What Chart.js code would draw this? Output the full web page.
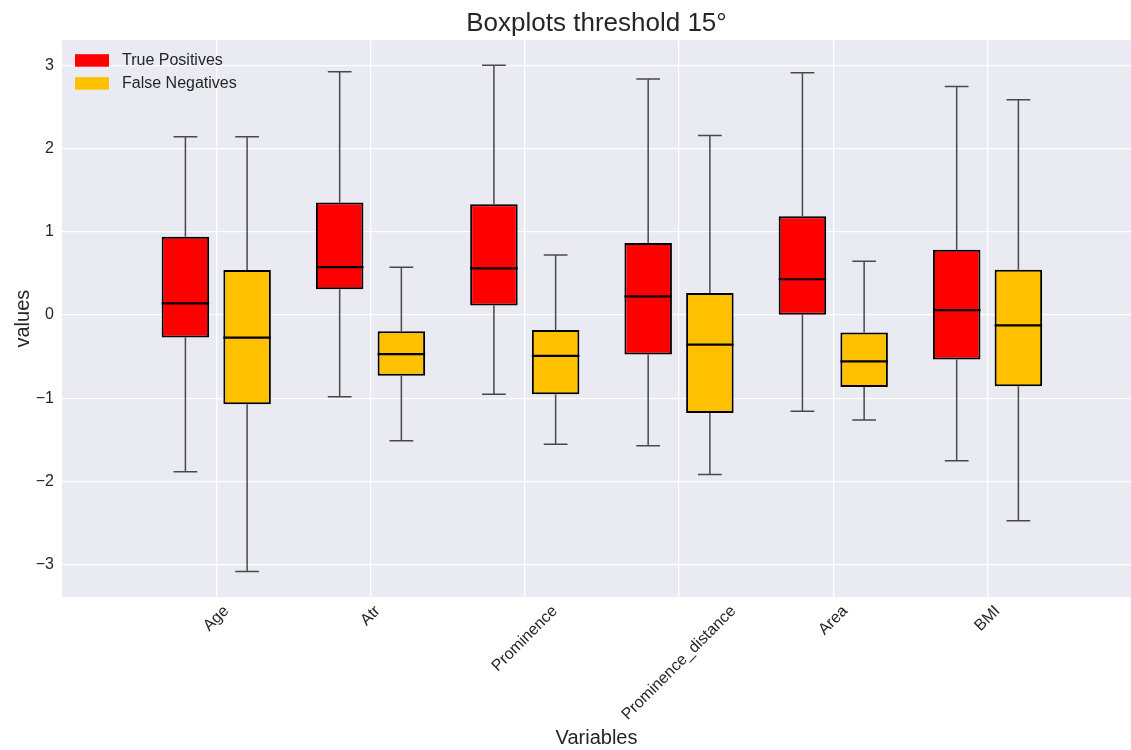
<!DOCTYPE html>
<html>
<head>
<meta charset="utf-8">
<title>Boxplots threshold 15°</title>
<script src="https://cdn.jsdelivr.net/npm/chart.js@4.4.1/dist/chart.umd.min.js"></script>
<style>
  html, body { margin: 0; padding: 0; background: #fff; }
  #wrap { width: 1131px; height: 750px; position: relative; }
</style>
</head>
<body>
<div id="wrap"><canvas id="box-chart"></canvas></div>
<script>
'use strict';

/* ---------- data ---------- */
const categories = ['Age', 'Atr', 'Prominence', 'Prominence_distance', 'Area', 'BMI'];
const seriesNames = ['True Positives', 'False Negatives'];

// True Positives
const tpLow    = [-1.88, -0.98, -0.95, -1.57, -1.155, -1.75];
const tpQ1     = [-0.27,  0.31,  0.115, -0.475, 0.005, -0.535];
const tpMedian = [ 0.14,  0.575, 0.56,  0.225, 0.43,  0.06];
const tpQ3     = [ 0.94,  1.35,  1.33,  0.865, 1.185, 0.785];
const tpHigh   = [ 2.14,  2.92,  3.00,  2.835, 2.91,  2.745];

// False Negatives
const fnLow    = [-3.08, -1.51, -1.55, -1.915, -1.26, -2.47];
const fnQ1     = [-1.07, -0.73, -0.95, -1.175, -0.865, -0.855];
const fnMedian = [-0.27, -0.47, -0.49, -0.355, -0.555, -0.125];
const fnQ3     = [ 0.54, -0.195, -0.18, 0.265, -0.21,  0.545];
const fnHigh   = [ 2.14,  0.575, 0.72,  2.155, 0.645, 2.585];

const yTicks = [-3, -2, -1, 0, 1, 2, 3];

/* ---------- styling ---------- */
const FONT = "'Liberation Sans', Arial, 'DejaVu Sans', sans-serif";
const TEXT = '#262626';
const COLORS = ['#FF0000', '#FFC000'];

const positions = categories.map((_, i) => i + 1);
const boxes = [
  { low: tpLow, q1: tpQ1, med: tpMedian, q3: tpQ3, high: tpHigh },
  { low: fnLow, q1: fnQ1, med: fnMedian, q3: fnQ3, high: fnHigh }
];

function boxDataset(k) {
  const b = boxes[k];
  return {
    label: seriesNames[k],
    data: positions.map((p, i) => ({ x: p, y: [b.q1[i], b.q3[i]] })),
    backgroundColor: COLORS[k],
    borderColor: '#000',
    borderWidth: 2,
    borderSkipped: false,
    categoryPercentage: 0.8,
    barPercentage: 0.77
  };
}

/* ---------- plugin: plot background, whiskers, medians, labels, legend ---------- */
const boxPlugin = {
  id: 'boxExtras',
  beforeDraw(chart) {
    const { ctx, chartArea: a } = chart;
    ctx.save();
    ctx.fillStyle = '#EAEAF2';
    ctx.fillRect(a.left, a.top, a.right - a.left, a.bottom - a.top);
    ctx.restore();
  },
  beforeDatasetsDraw(chart) {
    // whiskers + caps sit behind the boxes
    const { ctx } = chart;
    const y = chart.scales.y;
    ctx.save();
    ctx.strokeStyle = 'rgba(45,45,45,0.85)';
    ctx.lineWidth = 1.5;
    boxes.forEach((b, k) => {
      const meta = chart.getDatasetMeta(k);
      meta.data.forEach((el, i) => {
        const { x, width } = el.getProps(['x', 'width'], true);
        const cap = width / 4;
        const yLow = y.getPixelForValue(b.low[i]);
        const yHigh = y.getPixelForValue(b.high[i]);
        const yQ1 = y.getPixelForValue(b.q1[i]);
        const yQ3 = y.getPixelForValue(b.q3[i]);
        ctx.beginPath();
        ctx.moveTo(x, yQ3); ctx.lineTo(x, yHigh);
        ctx.moveTo(x - cap, yHigh); ctx.lineTo(x + cap, yHigh);
        ctx.moveTo(x, yQ1); ctx.lineTo(x, yLow);
        ctx.moveTo(x - cap, yLow); ctx.lineTo(x + cap, yLow);
        ctx.stroke();
      });
    });
    ctx.restore();
  },
  afterDatasetsDraw(chart) {
    const { ctx } = chart;
    const y = chart.scales.y;
    ctx.save();
    ctx.strokeStyle = '#000';
    ctx.lineWidth = 2.2;
    boxes.forEach((b, k) => {
      const meta = chart.getDatasetMeta(k);
      meta.data.forEach((el, i) => {
        const { x, width } = el.getProps(['x', 'width'], true);
        const ym = y.getPixelForValue(b.med[i]);
        ctx.beginPath();
        ctx.moveTo(x - width / 2, ym);
        ctx.lineTo(x + width / 2, ym);
        ctx.stroke();
      });
    });
    ctx.restore();
  },
  afterDraw(chart) {
    const { ctx, chartArea: a } = chart;
    const xs = chart.scales.x;
    ctx.save();
    // rotated category labels, centred on the tick like matplotlib
    ctx.font = '16px ' + FONT;
    ctx.fillStyle = TEXT;
    ctx.textAlign = 'center';
    ctx.textBaseline = 'middle';
    categories.forEach((name, i) => {
      const px = xs.getPixelForValue(positions[i]);
      const w = ctx.measureText(name).width;
      const half = (w + 13) * Math.SQRT1_2 / 2;
      ctx.save();
      ctx.translate(px, a.bottom + 7 + half);
      ctx.rotate(-Math.PI / 4);
      ctx.fillText(name, 0, 0);
      ctx.restore();
    });
    // legend in the upper-left corner of the axes
    ctx.textAlign = 'left';
    chart.data.datasets.forEach((ds, k) => {
      const top = a.top + 14 + k * 23;
      ctx.fillStyle = ds.backgroundColor;
      ctx.fillRect(a.left + 13, top, 34, 12.5);
      ctx.fillStyle = TEXT;
      ctx.fillText(ds.label, a.left + 60, top + 6.5);
    });
    ctx.restore();
  }
};

/* ---------- chart ---------- */
new Chart(document.getElementById('box-chart'), {
  type: 'bar',
  data: { datasets: [boxDataset(0), boxDataset(1)] },
  plugins: [boxPlugin],
  options: {
    responsive: true,
    maintainAspectRatio: false,
    animation: false,
    devicePixelRatio: 1,
    layout: { padding: { left: 0, right: 0, top: 0, bottom: 0 } },
    plugins: {
      legend: { display: false },
      tooltip: { enabled: false },
      title: {
        display: true,
        text: 'Boxplots threshold 15°',
        fullSize: false,
        color: TEXT,
        font: { family: FONT, size: 26, weight: 'normal' },
        padding: { top: 8, bottom: 1 }
      }
    },
    scales: {
      x: {
        type: 'linear',
        min: 0,
        max: 6.93,
        offset: false,
        grid: {
          offset: false,
          drawTicks: false,
          lineWidth: 1.3,
          color: c => (c.tick && c.tick.value === 0 ? 'rgba(0,0,0,0)' : '#FFFFFF')
        },
        border: { display: false },
        ticks: { display: false, stepSize: 1, includeBounds: false },
        title: {
          display: true,
          text: 'Variables',
          color: TEXT,
          font: { family: FONT, size: 20 },
          padding: { top: 0, bottom: 0 }
        },
        afterFit: s => { s.height = 153; }
      },
      y: {
        min: -3.385,
        max: 3.30,
        grid: { color: '#FFFFFF', lineWidth: 1.3, drawTicks: false },
        border: { display: false },
        afterBuildTicks: s => { s.ticks = yTicks.map(v => ({ value: v })); },
        ticks: {
          color: TEXT,
          padding: 8,
          font: { family: FONT, size: 16 },
          callback: v => (v < 0 ? '\u2212' + Math.abs(v) : String(v))
        },
        title: {
          display: true,
          text: 'values',
          color: TEXT,
          font: { family: FONT, size: 20 },
          padding: { top: 11, bottom: 0 }
        },
        afterFit: s => { s.width = 62; }
      }
    }
  }
});
</script>
</body>
</html>
